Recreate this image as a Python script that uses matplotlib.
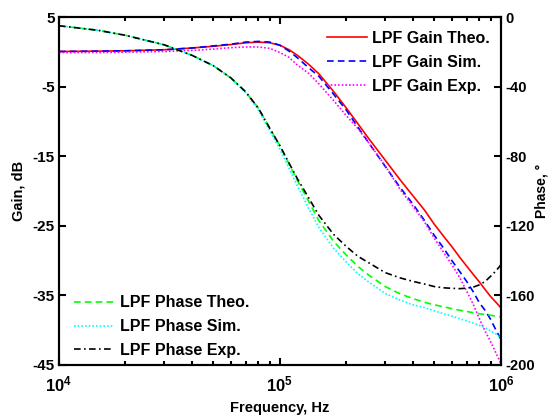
import numpy as np
import matplotlib
matplotlib.use("Agg")
import matplotlib.pyplot as plt

# frequency grid, Hz
freq = [1e4, 1.5e4, 2e4, 3e4, 4e4, 5e4, 6e4, 7e4, 8e4, 9e4, 1e5, 1.1e5, 1.2e5,
        1.35e5, 1.5e5, 1.75e5, 2e5, 2.25e5, 2.5e5, 3e5, 3.5e5, 4e5, 4.5e5, 5e5,
        5.5e5, 6e5, 6.5e5, 7e5, 7.5e5, 8e5, 8.5e5, 9e5, 9.5e5, 1e6]

# gain, dB
gain_theo = [0.05, 0.1, 0.15, 0.3, 0.55, 0.8, 1.05, 1.3, 1.4, 1.3, 0.95, 0.3, -0.5,
             -1.8, -3.15, -5.7, -8.1, -10.3, -12.3, -15.6, -18.4, -20.7, -22.7, -24.8,
             -26.5, -28.0, -29.5, -30.8, -32.0, -33.1, -34.2, -35.2, -36.0, -36.8]
gain_sim = [0.05, 0.1, 0.15, 0.3, 0.55, 0.85, 1.1, 1.4, 1.5, 1.4, 0.95, 0.1, -0.85,
            -2.3, -3.5, -6.1, -8.4, -10.8, -12.9, -16.5, -19.5, -21.9, -24.2, -26.4,
            -28.2, -30.0, -31.55, -33.0, -34.5, -36.1, -37.2, -38.5, -40.0, -41.3]
gain_exp = [-0.1, -0.1, -0.05, 0.05, 0.2, 0.4, 0.6, 0.7, 0.7, 0.5, -0.1, -0.8, -1.9,
            -3.1, -4.6, -7.0, -9.2, -11.0, -12.9, -16.4, -19.8, -22.2, -24.4, -26.8,
            -28.8, -30.6, -32.4, -34.4, -36.3, -38.4, -40.2, -41.7, -43.3, -44.8]

# phase, degrees
phase_theo = [-5, -7.6, -10.5, -16, -22, -28, -35, -43, -52.5, -64, -74, -84.5, -94,
              -106, -117, -129, -137, -143.3, -148, -155, -159.2, -161.9, -164, -165.5,
              -166.6, -167.7, -168.6, -169.3, -170, -170.6, -171.1, -171.5, -172, -172.4]
phase_sim = [-5, -7.6, -10.5, -16, -22, -28, -35, -43.5, -53.5, -65.5, -76, -87, -97,
             -110, -121, -133, -141, -147.5, -152, -159, -162.8, -165.5, -167, -169,
             -170.6, -172, -173.5, -174.7, -176, -177.3, -178.7, -180.5, -182.3, -184.5]
phase_exp = [-5, -7.6, -10.5, -16, -22, -28, -35, -43, -52.5, -64, -74, -84, -93,
             -104, -114, -125, -132, -137.5, -141, -147, -150, -152, -153.5, -155,
             -155.7, -156, -156.2, -155.9, -155.3, -154, -152, -149, -146, -142.5]

plt.rcParams['font.family'] = ['Liberation Sans', 'DejaVu Sans']
plt.rcParams['font.weight'] = 'bold'
plt.rcParams['axes.unicode_minus'] = False
plt.rcParams['mathtext.fontset'] = 'custom'
plt.rcParams['mathtext.rm'] = 'Liberation Sans:bold'
plt.rcParams['mathtext.bf'] = 'Liberation Sans:bold'

fig = plt.figure(figsize=(5.51, 4.16), dpi=100)
ax = fig.add_axes([0.107, 0.123, 0.802, 0.836])
ax2 = ax.twinx()

lw = 1.2
l1, = ax.plot(freq, gain_theo, color='#ff0000', lw=lw, label='LPF Gain Theo.')
l2, = ax.plot(freq, gain_sim, color='#0000ff', lw=lw, ls=(0, (4, 2.5)), label='LPF Gain Sim.')
l3, = ax.plot(freq, gain_exp, color='#ff00ff', lw=lw, ls=(0, (1, 1.2)), label='LPF Gain Exp.')

p1, = ax2.plot(freq, phase_theo, color='#00ff00', lw=lw, ls=(0, (4, 2.5)), label='LPF Phase Theo.')
p2, = ax2.plot(freq, phase_sim, color='#00ffff', lw=lw, ls=(0, (1, 1.2)), label='LPF Phase Sim.')
p3, = ax2.plot(freq, phase_exp, color='#000000', lw=lw, ls=(0, (4, 2, 1, 2)), label='LPF Phase Exp.')

ax.set_xscale('log')
ax.set_xlim(1e4, 1e6)
ax.set_ylim(-45, 5)
ax.set_yticks([-45, -35, -25, -15, -5, 5])
ax2.set_ylim(-200, 0)
ax2.set_yticks([-200, -160, -120, -80, -40, 0])

ax.set_xticks([1e4, 1e5, 1e6])
ax.set_xticklabels([r'$\mathbf{10^{4}}$', r'$\mathbf{10^{5}}$', r'$\mathbf{10^{6}}$'], fontsize=12)

ax.tick_params(axis='x', which='both', direction='in', top=True, width=1.5, pad=7)
ax.tick_params(axis='x', which='major', length=5)
ax.tick_params(axis='x', which='minor', length=3)
ax.tick_params(axis='y', direction='in', length=5, width=1.5, labelsize=11, pad=3)
ax2.tick_params(axis='y', direction='in', length=5, width=1.5, labelsize=10.5, pad=3)

for a in (ax, ax2):
    for s in a.spines.values():
        s.set_linewidth(1.5)

ax.set_xlabel('Frequency, Hz', fontsize=10.5, fontweight='bold', labelpad=5)
ax.set_ylabel('Gain, dB', fontsize=10.5, fontweight='bold', labelpad=5)
ax2.set_ylabel('Phase, \u00b0', fontsize=10, fontweight='bold', labelpad=0)

leg_font = {'size': 11.5, 'weight': 'bold'}
leg1 = ax2.legend(handles=[l1, l2, l3], loc='upper left', frameon=False,
                  bbox_to_anchor=(327 / 551, 1 - 31 / 416), bbox_transform=fig.transFigure,
                  borderpad=0, borderaxespad=0, handlelength=2.5, handletextpad=0.3,
                  labelspacing=0.55, prop=leg_font)
ax2.add_artist(leg1)
ax2.legend(handles=[p1, p2, p3], loc='lower left', frameon=False,
           bbox_to_anchor=(74 / 551, 1 - 358 / 416), bbox_transform=fig.transFigure,
           borderpad=0, borderaxespad=0, handlelength=2.5, handletextpad=0.35,
           labelspacing=0.55, prop=leg_font)

plt.savefig('out.png', dpi=100)
